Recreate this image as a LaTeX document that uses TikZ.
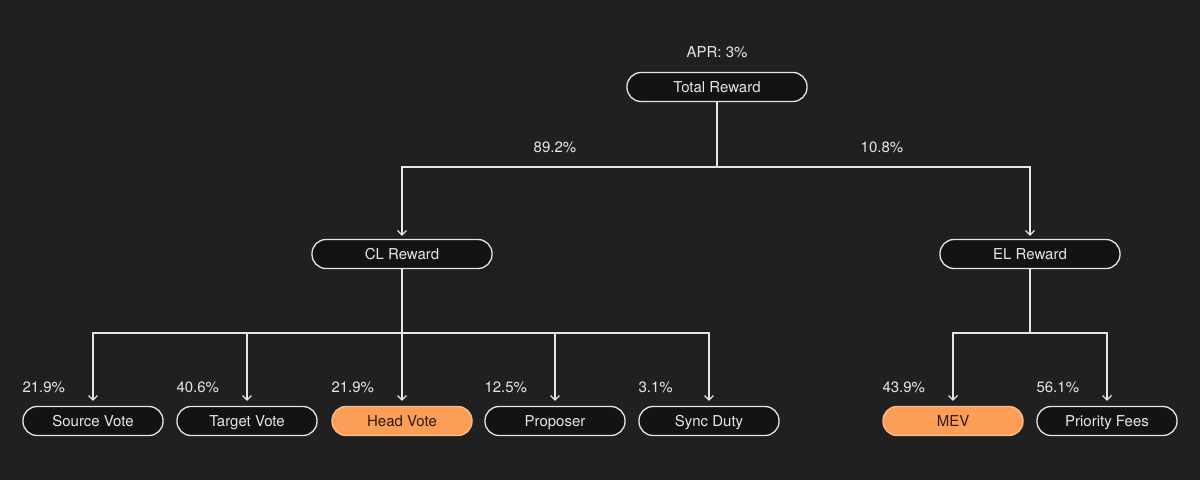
\documentclass[tikz,border=0pt]{standalone}
\usepackage{fontspec}
\usetikzlibrary{arrows.meta}
\setmainfont{TeX Gyre Heros}
\definecolor{bg}{HTML}{202020}
\definecolor{boxfill}{HTML}{131313}
\definecolor{linecol}{HTML}{E6E6E6}
\definecolor{peach}{HTML}{FD9E58}
\definecolor{darktext}{HTML}{2B1A0E}
\begin{document}
\begin{tikzpicture}[x=1pt,y=-1pt]
		\tikzstyle{Reward} = [rectangle, rounded corners=14pt, minimum width=180pt, minimum height=29pt, text height=11pt, text depth=0pt, text centered, draw=linecol, line width=1.3pt, fill=boxfill, text=linecol, font=\fontsize{15}{18}\selectfont]
		\tikzstyle{Part} = [Reward, minimum width=140pt]
		\tikzstyle{Picked} = [Part, fill=peach, draw=peach!70!white, text=darktext]
		\tikzstyle{Pct} = [anchor=base west, inner sep=0pt, text=linecol, font=\fontsize{15}{18}\selectfont]
		\tikzstyle{link} = [line width=1.2pt, draw=linecol]
		\tikzstyle{arrow} = [link,->,>={Straight Barb[length=4.5pt,width=9pt]}, shorten >=3pt]
		
		\fill[bg] (0,0) rectangle (1200,480);
		\useasboundingbox (0,0) rectangle (1200,480);
		
		\node (apr) [Pct, anchor=base] at (717,57.5) {APR: 3\%};
		\node (total) [Reward] at (717,87) {Total Reward};
		\node (clReward) [Reward] at (402,254) {CL Reward};
		\node (elReward) [Reward] at (1030,254) {EL Reward};
		
		\node (sourceVote) [Part] at (93,421) {Source Vote};
		\node (targetVote) [Part] at (247,421) {Target Vote};
		\node (headVote) [Picked] at (402,421) {Head Vote};
		\node (proposer) [Part] at (555,421) {Proposer};
		\node (syncDuty) [Part] at (709,421) {Sync Duty};
		\node (mev) [Picked] at (953,421) {MEV};
		\node (prioFees) [Part] at (1107,421) {Priority Fees};
		
		\node (clPct) [Pct, anchor=base] at (555,152) {89.2\%};
		\node (elPct) [Pct, anchor=base] at (882,152) {10.8\%};
		\node (sourcePct) [Pct] at (sourceVote.west |- 0,392) {21.9\%};
		\node (targetPct) [Pct] at (targetVote.west |- 0,392) {40.6\%};
		\node (headPct) [Pct] at (headVote.west |- 0,392) {21.9\%};
		\node (proposerPct) [Pct] at (proposer.west |- 0,392) {12.5\%};
		\node (syncPct) [Pct] at (syncDuty.west |- 0,392) {3.1\%};
		\node (mevPct) [Pct] at (mev.west |- 0,392) {43.9\%};
		\node (feesPct) [Pct] at (prioFees.west |- 0,392) {56.1\%};
		
		\coordinate (topSplit) at (717,167);
		\coordinate (clSplit) at (402,333);
		\coordinate (elSplit) at (1030,333);
		
		\draw [link] (total) -- (topSplit);
		\draw [arrow] (topSplit) -| (clReward);
		\draw [arrow] (topSplit) -| (elReward);
		
		\draw [link] (clReward) -- (clSplit);
		\draw [arrow, shorten >=5pt] (clSplit) -| (sourceVote);
		\draw [arrow, shorten >=5pt] (clSplit) -| (targetVote);
		\draw [arrow, shorten >=5pt] (clSplit) -- (headVote);
		\draw [arrow, shorten >=5pt] (clSplit) -| (proposer);
		\draw [arrow, shorten >=5pt] (clSplit) -| (syncDuty);
		
		\draw [link] (elReward) -- (elSplit);
		\draw [arrow, shorten >=5pt] (elSplit) -| (mev);
		\draw [arrow, shorten >=5pt] (elSplit) -| (prioFees);
		\end{tikzpicture}
\end{document}
